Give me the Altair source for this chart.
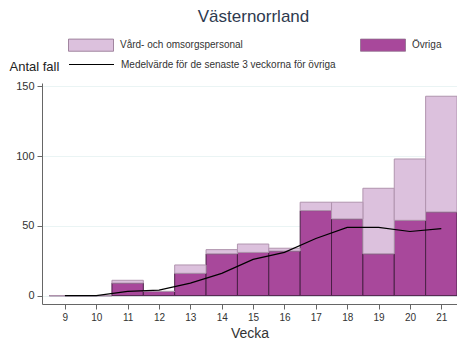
import altair as alt
import pandas as pd

weeks = [9, 10, 11, 12, 13, 14, 15, 16, 17, 18, 19, 20, 21]
ovriga = [0, 0, 9, 3, 16, 30, 31, 32, 61, 55, 30, 54, 60]
vard = [0, 0, 2, 0, 6, 3, 6, 2, 6, 12, 47, 44, 83]
medel = [0, 0, 3, 4, 9, 16, 26, 31, 41, 49, 49, 46, 48]

CAT_V = "Vård- och omsorgspersonal"
CAT_O = "Övriga"
LINE_LBL = "Medelvärde för de senaste 3 veckorna för övriga"

rows = []
for w, o, v in zip(weeks, ovriga, vard):
    rows.append({"week": w, "kategori": CAT_O, "y0": 0, "y1": o})
    rows.append({"week": w, "kategori": CAT_V, "y0": o, "y1": o + v})
bars_df = pd.DataFrame(rows)
line_df = pd.DataFrame({"week": weeks, "medel": medel, "serie": [LINE_LBL] * len(weeks)})

FONT = "Liberation Sans"
PALE = "#dcc1dd"
PURPLE = "#a8489b"

xscale = alt.Scale(domain=[8.27, 21.5], nice=False, zero=False)
yscale = alt.Scale(domain=[-6, 152.5], nice=False, zero=False)

xaxis = alt.Axis(values=weeks, grid=False, tickSize=5, labelFontSize=10, labelPadding=3,
                 labelColor="#333333", domainColor="#666666", tickColor="#666666",
                 title="Vecka", titleFontSize=14, titleFontWeight="normal", titleColor="#333333",
                 titlePadding=4, format="d")
yaxis = alt.Axis(values=[0, 50, 100, 150], grid=True, gridColor="#eaf4f4", tickSize=5,
                 labelFontSize=11, labelPadding=3, labelColor="#333333",
                 domainColor="#666666", tickColor="#666666",
                 title="Antal fall", titleAngle=0, titleX=-33, titleY=-13, titleAlign="left",
                 titleBaseline="alphabetic", titleFontSize=13, titleFontWeight="normal",
                 titleColor="#222222")

bars = alt.Chart(bars_df).transform_calculate(
    x0="datum.week - 0.5", x1="datum.week + 0.5"
).mark_rect(strokeWidth=1).encode(
    x=alt.X("x0:Q", scale=xscale, axis=xaxis),
    x2="x1:Q",
    y=alt.Y("y0:Q", scale=yscale, axis=yaxis),
    y2="y1:Q",
    fill=alt.Fill("kategori:N",
                  scale=alt.Scale(domain=[CAT_V, CAT_O], range=[PALE, PURPLE]),
                  legend=alt.Legend(title=None, orient="none", legendX=26, legendY=-61,
                                    columns=2, columnPadding=115, direction="horizontal",
                                    symbolType="M-1,-0.27H1V0.27H-1Z", symbolSize=2025,
                                    symbolStrokeColor="#8e6e8c", symbolStrokeWidth=0.8,
                                    labelFontSize=10, labelColor="#333333", labelOffset=6,
                                    labelFont=FONT, labelLimit=400)),
    stroke=alt.condition(alt.datum.kategori == CAT_O, alt.value("#4a2046"), alt.value("#b094ae")),
    order=alt.Order("y0:Q"),
)

line = alt.Chart(line_df).mark_line(strokeWidth=1.2).encode(
    x=alt.X("week:Q", scale=xscale, axis=xaxis),
    y=alt.Y("medel:Q", scale=yscale, axis=yaxis),
    stroke=alt.Stroke("serie:N", scale=alt.Scale(domain=[LINE_LBL], range=["#000000"]),
                      legend=alt.Legend(title=None, orient="none", legendX=26, legendY=-42,
                                        symbolType="stroke", symbolSize=2025,
                                        symbolStrokeWidth=1.2,
                                        labelFontSize=10, labelColor="#333333", labelOffset=6,
                                        labelFont=FONT, labelLimit=400)),
)

chart = alt.layer(bars, line).properties(
    width=415, height=221,
    autosize=alt.AutoSizeParams(type="none"),
    padding={"left": 34, "top": 75, "right": 0, "bottom": 37},
    title=alt.TitleParams("Västernorrland", fontSize=17, fontWeight="normal",
                          color="#2e3a4f", anchor="middle", dx=4, dy=8, font=FONT),
).configure(font=FONT).configure_view(stroke=None)

chart.save("out.html", embed_options={"renderer": "svg", "actions": False})
